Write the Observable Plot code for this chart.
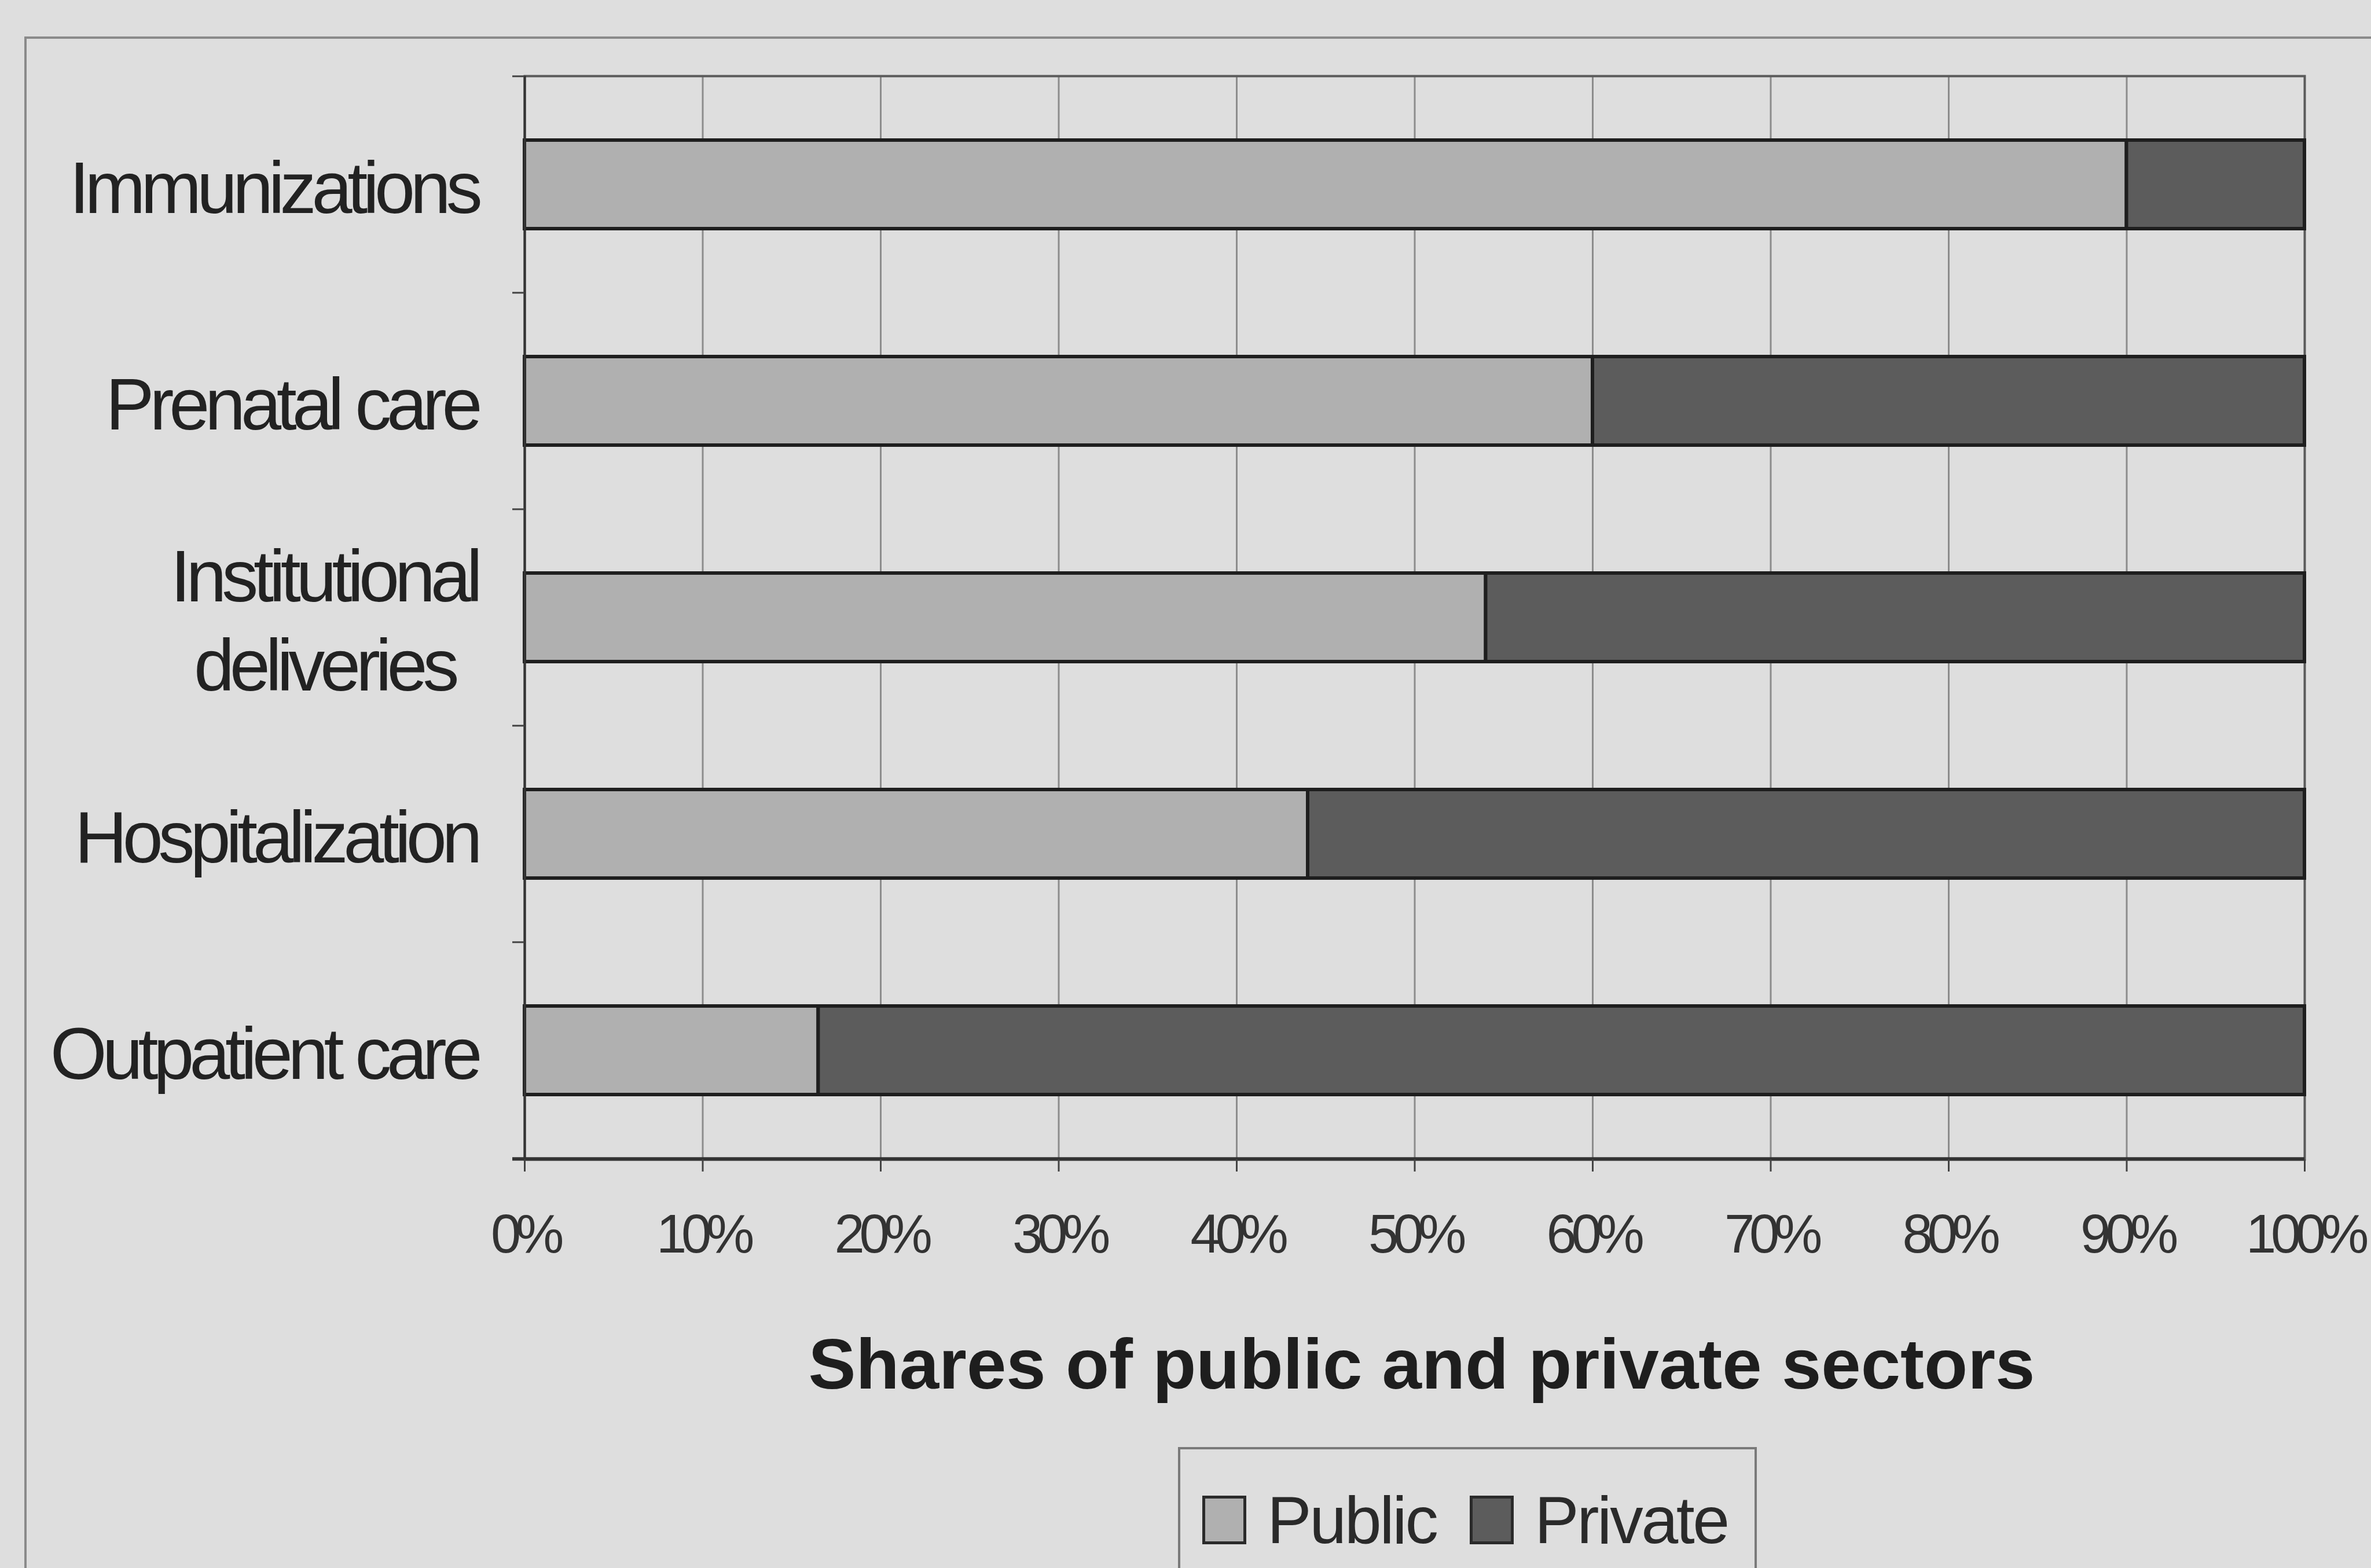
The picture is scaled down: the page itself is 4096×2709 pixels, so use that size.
<!DOCTYPE html>
<html>
<head>
<meta charset="utf-8">
<script src="https://cdn.jsdelivr.net/npm/d3@7"></script>
<script src="https://cdn.jsdelivr.net/npm/@observablehq/plot@0.6"></script>
<style>
  html, body { margin: 0; padding: 0; background: #dedede; width: 4096px; height: 2709px; overflow: hidden; position: relative; font-family: "Liberation Sans", Arial, sans-serif; color: #222; }
  #outer { position: absolute; left: 42px; top: 63px; width: 5000px; height: 5000px; border-left: 4px solid #8a8a8a; border-top: 4px solid #8a8a8a; }
  #chart { position: absolute; left: 0; top: 0; }
  g[aria-label="y-axis tick label"] text { letter-spacing: -0.065em; }
  g[aria-label="x-axis tick label"] text { letter-spacing: -0.1em; }
  #legend { position: absolute; left: 2035px; top: 2500px; width: 1000px; height: 400px; border: 4px solid #7a7a7a; box-sizing: border-box; }
  .item { position: absolute; top: 56px; display: flex; align-items: center; font-size: 115px; letter-spacing: -0.03em; color: #2a2a2a; }
  .sw { width: 66px; height: 74px; border: 5px solid #2a2a2a; margin-right: 36px; }
</style>
</head>
<body>
<div id="outer"></div>
<div id="chart"></div>
<div id="legend"></div>
<script>
const categories = ["Immunizations", "Prenatal care", "Institutional\ndeliveries", "Hospitalization", "Outpatient care"];
const publicShare = [0.90, 0.60, 0.54, 0.44, 0.165];
const privateShare = [0.10, 0.40, 0.46, 0.56, 0.835];
const sectors = ["Public", "Private"];
const sectorColors = ["#b0b0b0", "#5c5c5c"];
const xTicks = [0, 0.1, 0.2, 0.3, 0.4, 0.5, 0.6, 0.7, 0.8, 0.9, 1.0];
const axisTitle = "Shares of public and private sectors";

const rows = categories.flatMap((c, i) => [
  {category: c, sector: sectors[0], share: publicShare[i]},
  {category: c, sector: sectors[1], share: privateShare[i]}
]);

const W = 4096, H = 2709, mL = 906, mR = 115, mT = 131, mB = 706;
const step = (H - mT - mB) / categories.length;
const last = categories[categories.length - 1];

const plot = Plot.plot({
  width: W, height: H,
  marginLeft: mL, marginRight: mR, marginTop: mT, marginBottom: mB,
  style: {background: "transparent", fontFamily: "Liberation Sans, Arial, sans-serif", color: "#222"},
  x: {domain: [0, 1], label: null},
  y: {domain: categories, paddingInner: 0.59, paddingOuter: 0.295, label: null},
  color: {domain: sectors, range: sectorColors},
  marks: [
    Plot.gridX(xTicks, {stroke: "#8c8c8c", strokeOpacity: 1, strokeWidth: 3}),
    Plot.frame({stroke: "#5a5a5a", strokeWidth: 4}),
    Plot.barX(rows, {y: "category", x: "share", fill: "sector", stroke: "#1e1e1e", strokeWidth: 6}),
    Plot.ruleX([0], {stroke: "#333", strokeWidth: 4}),
    Plot.ruleY(categories, {y: d => d, dy: -step / 2, x1: 0, x2: 0, insetLeft: -21, stroke: "#444", strokeWidth: 3}),
    Plot.ruleY([last], {y: d => d, dy: step / 2, x1: 0, x2: 1, insetLeft: -21, stroke: "#333", strokeWidth: 6}),
    Plot.axisX(xTicks, {tickSize: 21, tickPadding: 73, tickFormat: d3.format(".0%"), fontSize: 94, stroke: "#444", strokeWidth: 3, label: null, fill: "#333"}),
    Plot.axisY({tickSize: 0, tickPadding: 81, fontSize: 126, lineHeight: 1.22, label: null, fill: "#222"}),
    Plot.text([axisTitle], {text: d => d, frameAnchor: "bottom", dy: 395, dx: 12, fontSize: 123, fontWeight: "bold", fill: "#1e1e1e"})
  ]
});
document.getElementById("chart").appendChild(plot);

// center the two-line label lines relative to each other
d3.select(plot).selectAll('g[aria-label="y-axis tick label"] text').each(function() {
  const tspans = this.querySelectorAll("tspan");
  if (tspans.length > 1) {
    const L = tspans[0].getComputedTextLength();
    this.setAttribute("text-anchor", "middle");
    tspans.forEach(t => t.setAttribute("x", -L / 2));
  }
});

// legend
const legend = document.getElementById("legend");
const itemLeft = [38, 500];
sectors.forEach((s, i) => {
  const it = document.createElement("div");
  it.className = "item";
  it.style.left = itemLeft[i] + "px";
  const sw = document.createElement("div");
  sw.className = "sw";
  sw.style.background = sectorColors[i];
  it.appendChild(sw);
  const t = document.createElement("span");
  t.textContent = s;
  it.appendChild(t);
  legend.appendChild(it);
});
</script>
</body>
</html>
